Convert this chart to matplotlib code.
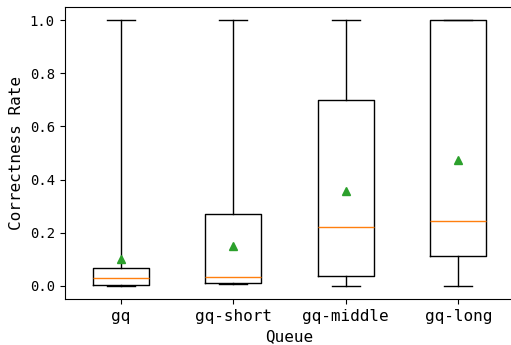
import matplotlib
matplotlib.use("Agg")
import matplotlib.pyplot as plt

plt.rcParams['font.family'] = ['DejaVu Sans Mono']
plt.rcParams['font.size'] = 10

queues = ["gq", "gq-short", "gq-middle", "gq-long"]
whislo = [0.0, 0.005, 0.0, 0.0]
q1 = [0.004, 0.011, 0.036, 0.113]
med = [0.030, 0.033, 0.222, 0.244]
q3 = [0.068, 0.270, 0.700, 1.0]
whishi = [1.0, 1.0, 1.0, 1.0]
means = [0.102, 0.148, 0.357, 0.474]

stats = []
for i, name in enumerate(queues):
    stats.append(dict(label=name, whislo=whislo[i], q1=q1[i], med=med[i],
                      q3=q3[i], whishi=whishi[i], mean=means[i], fliers=[]))

fig = plt.figure(figsize=(5.11, 3.45), dpi=100)
ax = fig.add_axes([64.5 / 511, 46 / 345, 450 / 511, 292 / 345])
ax.bxp(stats, showmeans=True, widths=0.5)
ax.set_xlabel("Queue", fontsize=11.5)
ax.set_ylabel("Correctness Rate", fontsize=11.5)
ax.tick_params(axis='x', labelsize=11.5)
ax.tick_params(axis='y', labelsize=10)
fig.savefig("out.png", dpi=100)
